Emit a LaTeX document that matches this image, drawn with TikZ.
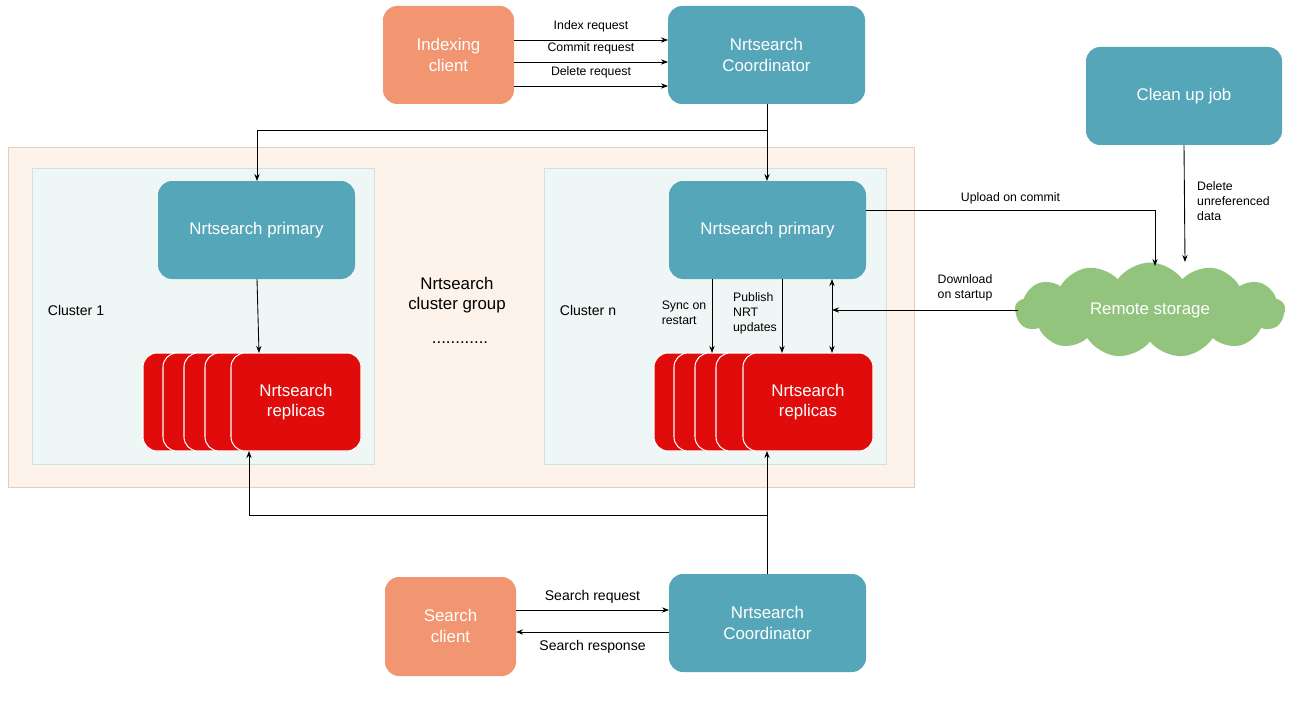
\documentclass[tikz,border=0pt]{standalone}
\usepackage{fontspec}
\setmainfont{Liberation Sans}
\usetikzlibrary{shapes.symbols,arrows.meta}
\definecolor{sal}{HTML}{F29671}
\definecolor{teal}{HTML}{56A6BA}
\definecolor{grp}{HTML}{FDF3EB}
\definecolor{grpb}{HTML}{E5CDBD}
\definecolor{cl}{HTML}{EEF7F6}
\definecolor{clb}{HTML}{CDE3E0}
\definecolor{rep}{HTML}{E00B0B}
\definecolor{grn}{HTML}{93C47D}
\begin{document}
\begin{tikzpicture}[x=0.02cm,y=-0.02cm,
  box/.style={rounded corners=8pt,draw=none,text=white,align=center,font=\fontsize{9.6}{11.5}\selectfont},
  lbl/.style={font=\fontsize{7}{8.5}\selectfont,align=center},
  arr/.style={-{Stealth[length=4pt,width=3pt]},line width=0.5pt},
  rp/.style={fill=rep,draw=white,line width=0.6pt,rounded corners=8pt}]
\useasboundingbox (0,0) rectangle (1295,723);
% group and clusters
\fill[grp,draw=grpb] (8,147) rectangle (914,487);
\fill[cl,draw=clb] (32,168) rectangle (374,464);
\fill[cl,draw=clb] (544,168) rectangle (886,464);
\node[lbl,font=\fontsize{8}{9.5}\selectfont] (c1) at (76,310) {Cluster 1};
\node[lbl,font=\fontsize{8}{9.5}\selectfont] (cn) at (588,310) {Cluster n};
\node[align=center,font=\fontsize{9.6}{11.5}\selectfont] (grp) at (457,295) {Nrtsearch\\cluster group};
\node[font=\fontsize{9.6}{11.5}\selectfont] (dots) at (460,343) {............};
% boxes
\fill[box,fill=sal] (383,6) rectangle (514,104); \node[box] (ic) at (448.5,55) {Indexing\\client};
\fill[box,fill=teal] (668,6) rectangle (865,104); \node[box] (ct) at (766.5,55) {Nrtsearch\\Coordinator};
\fill[box,fill=teal] (1086,47) rectangle (1282,145); \node[box] (cu) at (1184,96) {Clean up job};
\fill[box,fill=teal] (158,181) rectangle (355,279); \node[box] (p1) at (256.5,230) {Nrtsearch primary};
\fill[box,fill=teal] (669,181) rectangle (866,279); \node[box] (pn) at (767.5,230) {Nrtsearch primary};
\fill[box,fill=sal] (385,577) rectangle (516,676); \node[box] (sc) at (450.5,626) {Search\\client};
\fill[box,fill=teal] (669,574) rectangle (866,672); \node[box] (cb) at (767.5,623) {Nrtsearch\\Coordinator};
% replicas
\foreach \x in {143,163,184,205,231} \draw[rp] (\x,353) rectangle ++(130,98);
\node[box] (r1) at (296,402) {Nrtsearch\\replicas};
\foreach \x in {654,674,695,716,743} \draw[rp] (\x,353) rectangle ++(130,98);
\node[box] (rn) at (808,402) {Nrtsearch\\replicas};
% cloud
\node[cloud,cloud puffs=13,cloud puff arc=110,aspect=2.8,fill=grn,minimum width=270\pgflinewidth,text=white,font=\fontsize{9.6}{11.5}\selectfont,inner sep=0pt,minimum width=5.4cm,minimum height=1.9cm] (rs) at (1150,310) {Remote storage};
% indexing arrows
\coordinate (a1) at (514,40); \coordinate (b1) at (668,40);
\coordinate (a2) at (514,62); \coordinate (b2) at (668,62);
\coordinate (a3) at (514,86); \coordinate (b3) at (668,86);
\draw[arr] (a1) -- node[lbl,above=1pt] {Index request} (b1);
\draw[arr] (a2) -- node[lbl,above=1pt] {Commit request} (b2);
\draw[arr] (a3) -- node[lbl,above=1pt] {Delete request} (b3);
% coordinator to primaries
\coordinate (j1) at (767,130);
\draw[arr] (767,104) -- (767,181);
\draw[arr] (j1) -- (257,130) -- (257,181);
\draw[arr] (257,279) -- (259,353);
% primary n
\draw[arr] (712,279) -- (712,353);
\node[lbl,align=left] (sync) at (684,313) {Sync on\\restart};
\draw[arr] (782,279) -- (782,353);
\node[lbl,align=left] (pub) at (755,313) {Publish\\NRT\\updates};
\draw[{Stealth[length=4pt,width=3pt]}-{Stealth[length=4pt,width=3pt]},line width=0.5pt] (832,279) -- (832,353);
% storage
\draw[arr] (866,210) -- node[lbl,above=0pt,pos=0.5] {Upload on commit} (1155,210) -- (1155,266);
\draw[arr] (cu.south |- 0,145) -- (1185,262);
\node[lbl,align=left,anchor=west] (del) at (1191,201) {Delete\\unreferenced\\data};
\draw[arr] (1018,310) -- (832,310);
\node[lbl] (dl) at (965,288) {Download\\on startup};
% bottom
\draw[arr] (767,574) -- (767,451);
\draw[arr] (767,515) -- (249,515) -- (249,451);
\draw[arr] (516,610) -- node[lbl,above=0pt,font=\fontsize{8}{9.5}\selectfont] {Search request} (669,610);
\draw[arr] (669,632) -- node[lbl,below=1pt,font=\fontsize{8}{9.5}\selectfont] {Search response} (516,632);
\end{tikzpicture}
\end{document}
